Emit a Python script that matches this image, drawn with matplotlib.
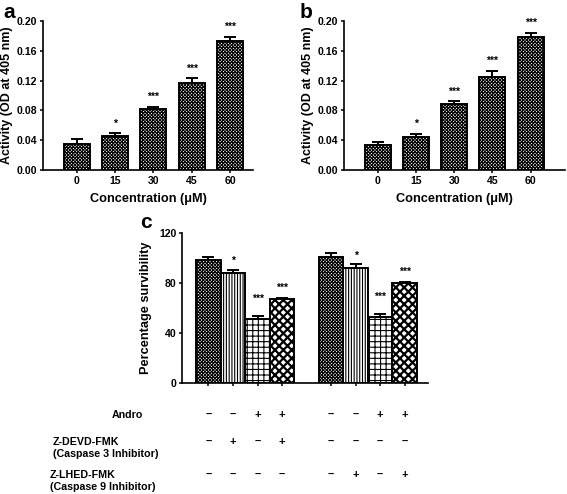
import numpy as np
import matplotlib
matplotlib.use('Agg')
import matplotlib.pyplot as plt
import matplotlib.transforms as mtransforms

plt.rcParams['font.family'] = ['Liberation Sans', 'DejaVu Sans']
plt.rcParams['font.weight'] = 'bold'
plt.rcParams['hatch.linewidth'] = 0.8

# panel a / b data
conc = ['0', '15', '30', '45', '60']
act_a = [0.035, 0.045, 0.082, 0.117, 0.173]
err_a = [0.007, 0.004, 0.003, 0.006, 0.006]
sig_a = ['', '*', '***', '***', '***']
act_b = [0.033, 0.044, 0.089, 0.125, 0.179]
err_b = [0.004, 0.004, 0.003, 0.008, 0.005]
sig_b = ['', '*', '***', '***', '***']

# panel c data
surv = [98.5, 88.3, 51.5, 67.2, 101.2, 92.4, 52.5, 79.8]
surv_err = [2.5, 2.2, 2.0, 1.2, 2.5, 2.6, 2.8, 1.3]
sig_c = ['', '*', '***', '***', '', '*', '***', '***']
andro = ['–', '–', '+', '+', '–', '–', '+', '+']
devd = ['–', '+', '–', '+', '–', '–', '–', '–']
lhed = ['–', '–', '–', '–', '–', '+', '–', '+']

W, H = 567, 494
fig = plt.figure(figsize=(W / 100, H / 100), dpi=100)


def box(x0, y0, x1, y1):
    # pixel box (top-left origin) -> figure fraction rect
    return [x0 / W, 1 - y1 / H, (x1 - x0) / W, (y1 - y0) / H]


def style(ax):
    for s in ['top', 'right']:
        ax.spines[s].set_visible(False)
    for s in ['left', 'bottom']:
        ax.spines[s].set_linewidth(1.2)
    ax.tick_params(direction='out', length=2.5, width=1.1, labelsize=7.6, pad=1.5)
    for lab in ax.get_xticklabels() + ax.get_yticklabels():
        lab.set_fontweight('bold')


fine = 'xxxxxxxxxx'


def activity_panel(rect, vals, errs, sig, xmax):
    ax = fig.add_axes(rect)
    x = np.arange(len(vals))
    ax.bar(x, vals, width=0.68, color='white', edgecolor='black', linewidth=1.4,
           hatch=fine, zorder=2)
    ax.errorbar(x, vals, yerr=[np.zeros(len(vals)), errs], fmt='none', ecolor='black',
                elinewidth=1.4, capsize=4, capthick=1.4, zorder=3)
    for xi, v, e, s in zip(x, vals, errs, sig):
        if s:
            ax.annotate(s, (xi, v + e), xytext=(0, 5), textcoords='offset points',
                        ha='center', va='baseline', fontsize=7.5, fontweight='bold')
    ax.set_xlim(-0.88, xmax)
    ax.set_ylim(0, 0.2)
    ax.set_yticks([0.0, 0.04, 0.08, 0.12, 0.16, 0.20])
    ax.set_yticklabels(['0.00', '0.04', '0.08', '0.12', '0.16', '0.20'])
    ax.set_xticks(x)
    ax.set_xticklabels(conc)
    ax.set_ylabel('Activity (OD at 405 nm)', fontsize=9, fontweight='bold', labelpad=3)
    ax.set_xlabel('Concentration (μM)', fontsize=9.2, fontweight='bold', labelpad=5)
    style(ax)
    return ax


ax_a = activity_panel(box(43, 21, 253, 170), act_a, err_a, sig_a, 4.6)
ax_b = activity_panel(box(344, 21, 565, 170), act_b, err_b, sig_b, 4.9)
fig.text(3 / W, 1 - 12 / H, 'a', fontsize=15, fontweight='bold', va='center')
fig.text(300 / W, 1 - 12 / H, 'b', fontsize=15, fontweight='bold', va='center')

# panel c
ax_c = fig.add_axes(box(182, 233, 428, 383))
pos = np.array([0, 1, 2, 3, 5, 6, 7, 8])
hatches = [fine, '||||||', '+++', 'xxxx', fine, '||||||', '+++', 'xxxx']
hatch_lw = [0.8, 0.8, 0.8, 1.6, 0.8, 0.8, 0.8, 1.6]
for p, v, h, hl in zip(pos, surv, hatches, hatch_lw):
    with plt.rc_context({'hatch.linewidth': hl}):
        ax_c.bar(p, v, width=1.0, color='white', edgecolor='black', linewidth=1.4,
                 hatch=h, zorder=2)
ax_c.errorbar(pos, surv, yerr=[np.zeros(len(surv)), surv_err], fmt='none', ecolor='black',
              elinewidth=1.4, capsize=4, capthick=1.4, zorder=3)
star_off = [0, 4, 10, 5, 0, 4, 10, 5]
for p, v, e, s, o in zip(pos, surv, surv_err, sig_c, star_off):
    if s:
        ax_c.annotate(s, (p, v + e), xytext=(0, o), textcoords='offset points',
                      ha='center', va='baseline', fontsize=7.5, fontweight='bold')
ax_c.set_xlim(-1.08, 8.95)
ax_c.set_ylim(0, 120)
ax_c.set_yticks([0, 40, 80, 120])
ax_c.set_xticks(pos)
ax_c.set_xticklabels([])
ax_c.set_ylabel('Percentage survibility', fontsize=9.2, fontweight='bold', labelpad=5)
style(ax_c)
fig.text(140 / W, 1 - 223 / H, 'c', fontsize=15, fontweight='bold', va='center')

# treatment table under panel c
trans = mtransforms.blended_transform_factory(ax_c.transData, fig.transFigure)
rows = [(andro, 415), (devd, 442), (lhed, 475)]
for signs, ypx in rows:
    for p, s in zip(pos, signs):
        ax_c.text(p, 1 - ypx / H, s, transform=trans, ha='center', va='center',
                  fontsize=8, fontweight='bold', clip_on=False)
lab_kw = dict(va='center', fontsize=7.7, fontweight='bold')
fig.text(127 / W, 1 - 415 / H, 'Andro', ha='center', **lab_kw)
fig.text(53 / W, 1 - 442 / H, 'Z-DEVD-FMK', ha='left', **lab_kw)
fig.text(53 / W, 1 - 454 / H, '(Caspase 3 Inhibitor)', ha='left', **lab_kw)
fig.text(50 / W, 1 - 475 / H, 'Z-LHED-FMK', ha='left', **lab_kw)
fig.text(50 / W, 1 - 487 / H, '(Caspase 9 Inhibitor)', ha='left', **lab_kw)

fig.savefig('out.png', dpi=100)
